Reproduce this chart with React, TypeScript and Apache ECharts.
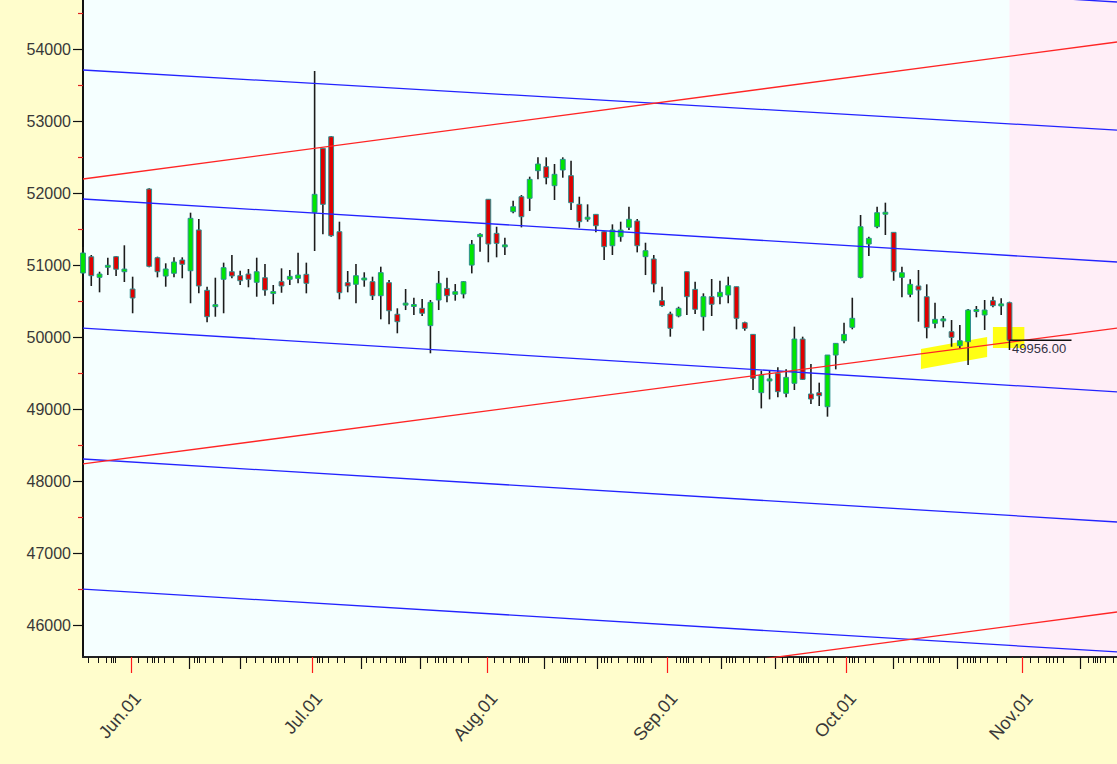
import React, { useEffect, useRef } from 'react';
import * as echarts from 'echarts';

// ---- Candles (index = trading-day slot; null = empty slot) ----
const opens: (number | null)[] = [
  50889, 51115, 50829, 50980, 51116, 50907, 50667, null, 52056, 51102,
  50847, 50885, 51070, 50921, 51487, 50649, 50431, 50802, 50907, 50852,
  50875, 50760, 50824, 50615, 50769, 50802, 50815, 50871, 51732, 52621,
  52782, 51463, 50755, 50732, 50806, 50769, 50574, 50755, 50316, 50455,
  50436, 50399, 50158, 50514, 50676, 50593, 50598, 50999, 51393, 51913,
  51440, 51264, 51741, 51949, 51927, 52310, 52366, 52102, 52320, 52241,
  51843, 51649, 51704, 51463, 51268, 51393, 51524, 51611, 51116, 51084,
  50505, 50320, 50292, 50907, 50662, 50282, 50560, 50560, 50584, 50699,
  50199, 50037, 49227, 49403, 49495, 49218, 49357, 49972, 49209, 49227,
  49032, 49750, 49949, 50135, 50829, 51292, 51532, 51718, 51454, 50829,
  50593, 50709, 50560, 50190, 50236, 50074, 49880, 49935, 50366, 50306,
  50505, 50445, 50477,
];
const closes: (number | null)[] = [
  51167, 50852, 50875, 50985, 50941, 50944, 50542, null, 50982, 50907,
  50945, 51042, 51010, 51649, 50709, 50282, 50440, 50963, 50848, 50782,
  50802, 50907, 50653, 50620, 50709, 50843, 50861, 50746, 51982, 51843,
  51407, 50616, 50709, 50852, 50806, 50574, 50894, 50365, 50213, 50460,
  50440, 50330, 50482, 50746, 50574, 50630, 50769, 51288, 51426, 51292,
  51301, 51268, 51810, 51671, 52190, 52403, 52213, 52260, 52468, 51866,
  51602, 51652, 51546, 51255, 51486, 51486, 51635, 51268, 51199, 50737,
  50436, 50121, 50399, 50560, 50385, 50560, 50455, 50621, 50713, 50260,
  50121, 49426, 49472, 49406, 49241, 49440, 49972, 49412, 49139, 49185,
  49750, 49912, 50037, 50260, 51532, 51371, 51727, 51721, 50907, 50893,
  50732, 50653, 50130, 50246, 50240, 49996, 49949, 50375, 50370, 50375,
  50436, 50448, 49956,
];
const lows: (number | null)[] = [
  50880, 50709, 50621, 50861, 50848, 50764, 50330, null, 50968, 50829,
  50699, 50829, 50816, 50469, 50607, 50205, 50282, 50330, 50815, 50723,
  50691, 50560, 50574, 50455, 50615, 50723, 50746, 50607, 51195, 51427,
  51393, 50524, 50621, 50469, 50699, 50514, 50246, 50177, 50052, 50375,
  50306, 50292, 49774, 50375, 50482, 50505, 50537, 50884, 51185, 51038,
  51107, 51139, 51718, 51523, 51750, 52190, 52121, 51903, 52213, 51764,
  51518, 51602, 51454, 51070, 51139, 51324, 51486, 51176, 50861, 50621,
  50421, 50005, 50274, 50306, 50320, 50088, 50292, 50455, 50469, 50107,
  50088, 49264, 49009, 49134, 49162, 49162, 49264, 49403, 49070, 49042,
  48894, 49551, 49912, 50107, 50815, 51125, 51510, 51417, 50782, 50551,
  50551, 50213, 49982, 50121, 50135, 49865, 49843, 49611, 50274, 50098,
  50412, 50306, 49945,
];
const highs: (number | null)[] = [
  51250, 51139, 50907, 51102, 51125, 51274, 50838, null, 52066, 51116,
  51024, 51107, 51107, 51727, 51639, 50699, 50824, 51033, 51139, 50921,
  50945, 51102, 51014, 50723, 50954, 50931, 51171, 51033, 53695, 52621,
  52792, 51602, 50917, 51014, 50899, 50838, 50977, 50792, 50399, 50667,
  50546, 50528, 50514, 50917, 50824, 50736, 50778, 51348, 51440, 51913,
  51532, 51380, 51894, 51972, 52227, 52496, 52496, 52403, 52496, 52449,
  51949, 51843, 51704, 51472, 51565, 51602, 51810, 51639, 51310, 51139,
  50699, 50352, 50421, 50907, 50769, 50607, 50806, 50782, 50838, 50699,
  50213, 50037, 49532, 49528, 49579, 49551, 50144, 50005, 49625, 49366,
  49750, 49912, 50199, 50546, 51695, 51393, 51810, 51866, 51454, 50977,
  50801, 50931, 50732, 50477, 50292, 50236, 50167, 50389, 50431, 50514,
  50560, 50537, 50491,
];

// ---- Axes ----
const yMin = 45556;
const yMax = 54681;
const yMajorTicks = [46000, 47000, 48000, 49000, 50000, 51000, 52000, 53000, 54000];
const yMinorTicks = [46500, 47500, 48500, 49500, 50500, 51500, 52500, 53500, 54500];
const xEnd = 125;
const monthLabels = ['Jun.01', 'Jul.01', 'Aug.01', 'Sep.01', 'Oct.01', 'Nov.01'];
const monthPos = [5.8, 27.7, 48.9, 70.65, 92.26, 113.6];
const monthLabelPos = [6.6, 28.5, 49.7, 71.45, 93.06, 114.4];
const longTickPos = [12.8, 19.0, 33.6, 40.75, 55.7, 62.2, 77.1, 83.7, 97.9, 105.7, 120.6];
const smallTickPos = [
  0.6, 1.81, 2.78, 3.39, 3.63, 3.87,
  6.65, 7.74, 8.34, 8.59, 9.07, 9.79, 10.88,
  13.42, 13.78, 14.03, 14.75, 15.72, 16.81,
  19.71, 20.8, 21.77, 22.73, 23.22, 23.58, 24.18, 24.91, 25.88,
  28.3, 28.54, 28.9, 29.63, 30.71, 31.56,
  34.22, 35.07, 35.9, 36.64, 37.73, 38.34, 38.63, 38.94,
  41.6, 42.6, 43.0, 43.5, 43.9, 44.7, 45.7, 46.6,
  49.7, 50.8, 51.6, 52.7, 53.1, 53.4, 53.8,
  56.7, 57.7, 58.0, 58.3, 58.6, 58.9, 59.7, 60.7,
  62.7, 63.0, 63.4, 63.8, 64.7, 65.8, 66.6, 67.0, 67.4, 67.7, 68.7,
  71.7, 72.2, 72.6, 72.9, 73.2, 73.8, 74.8, 75.7,
  77.8, 78.1, 78.5, 78.8, 79.8, 80.6, 81.5, 82.3,
  84.5, 85.1, 85.9, 86.6, 86.8, 87.1, 87.4, 87.7, 88.3, 88.9, 90.0, 90.7,
  92.6, 93.0, 93.2, 93.7, 94.6, 95.5,
  98.5, 99.2, 100.0, 100.8, 101.6, 102.2, 102.4, 102.8, 103.5,
  106.4, 106.9, 107.3, 107.6, 107.9, 108.5, 109.3, 110.5, 111.6,
  114.5, 115.5, 116.4, 116.8, 117.3, 117.8, 118.5,
  121.5, 122.1, 122.4, 122.6, 123.0, 123.6, 124.5,
];

// ---- Channel lines: [value at first slot, value at last slot] ----
const blueLines = [
  [55528, 54653],
  [53709, 52875],
  [51917, 51042],
  [50125, 49237],
  [48306, 47431],
  [46500, 45626],
];
const redLines = [
  [52195, 54098],
  [48237, 50125],
  [44278, 46181],
];

// ---- Annotations ----
const lastClose = 49956;
const lastSlot = 112;
const priceLineEnd = 119.5;
const priceBracketLow = 49820;
const futureStart = 112;
const highlightPolys = [
  [101.3, 49834, 109.3, 50000, 109.3, 49723, 101.3, 49556],
  [110.0, 50139, 113.8, 50139, 113.8, 49848, 110.0, 49848],
];

const labelBase = {
  fontFamily: 'Liberation Sans, Arial, sans-serif',
  color: '#383838',
  textShadowColor: 'rgba(150,225,230,0.85)',
  textShadowOffsetX: 1,
  textShadowOffsetY: 1,
  textShadowBlur: 0,
};

export default function App() {
  const ref = useRef<HTMLDivElement>(null);
  useEffect(() => {
    if (!ref.current) return;
    const chart = echarts.init(ref.current, undefined, { renderer: 'svg' });

    const candleData: number[][] = [];
    for (let i = 0; i < opens.length; i++) {
      if (opens[i] == null) continue;
      candleData.push([i, opens[i] as number, closes[i] as number, lows[i] as number, highs[i] as number]);
    }

    const lineSeries: any[] = [];
    blueLines.forEach((l) =>
      lineSeries.push({
        type: 'line', xAxisIndex: 0, yAxisIndex: 0, silent: true, symbol: 'none', z: 5,
        data: [[0, l[0]], [xEnd, l[1]]],
        lineStyle: { color: '#2323ff', width: 1.3 },
      })
    );
    redLines.forEach((l) =>
      lineSeries.push({
        type: 'line', xAxisIndex: 0, yAxisIndex: 0, silent: true, symbol: 'none', z: 5,
        data: [[0, l[0]], [xEnd, l[1]]],
        lineStyle: { color: '#ff2525', width: 1.3 },
      })
    );

    const valueX = (extra: any) => ({
      type: 'value', min: 0, max: xEnd, position: 'bottom', gridIndex: 0,
      splitLine: { show: false },
      axisLine: { show: false, onZero: false },
      axisLabel: { show: false },
      ...extra,
    });

    const option: any = {
      animation: false,
      backgroundColor: '#FFFDCC',
      grid: { left: 83, right: 0, top: 0, bottom: 107, show: true, backgroundColor: '#F5FFFF', borderWidth: 0 },
      xAxis: [
        valueX({
          axisLine: { show: true, onZero: false, lineStyle: { color: '#222', width: 2 } },
          axisTick: { show: true, customValues: smallTickPos, length: 6, lineStyle: { color: '#111', width: 1 } },
        }),
        valueX({
          axisTick: { show: true, customValues: longTickPos, length: 12, lineStyle: { color: '#111', width: 1.2 } },
        }),
        valueX({
          axisTick: { show: true, customValues: monthPos, length: 16, lineStyle: { color: '#ff1a1a', width: 1.2 } },
        }),
        valueX({
          axisTick: { show: false },
          axisLabel: {
            show: true, customValues: monthLabelPos, rotate: 49, margin: 38, fontSize: 18, ...labelBase,
            formatter: (v: number) => {
              const k = monthLabelPos.findIndex((p) => Math.abs(p - v) < 0.01);
              return k >= 0 ? monthLabels[k] : '';
            },
          },
        }),
      ],
      yAxis: [
        {
          type: 'value', min: yMin, max: yMax, position: 'left', gridIndex: 0,
          splitLine: { show: false },
          axisLine: { show: true, onZero: false, lineStyle: { color: '#111', width: 2 } },
          axisTick: { show: true, customValues: yMajorTicks, length: 10, lineStyle: { color: '#111', width: 1.2 } },
          axisLabel: { show: true, customValues: yMajorTicks, margin: 12, fontSize: 16, ...labelBase, formatter: (v: number) => String(v) },
        },
        {
          type: 'value', min: yMin, max: yMax, position: 'left', gridIndex: 0,
          splitLine: { show: false },
          axisLine: { show: false, onZero: false },
          axisTick: { show: true, customValues: yMinorTicks, length: 5, lineStyle: { color: '#e02020', width: 1.2 } },
          axisLabel: { show: false },
        },
      ],
      series: [
        {
          type: 'custom', name: 'future', xAxisIndex: 0, yAxisIndex: 0, silent: true, z: 0,
          data: [[futureStart, xEnd]],
          renderItem: (params: any, api: any) => {
            const a = api.coord([api.value(0), yMax]);
            const b = api.coord([api.value(1), yMin]);
            return { type: 'rect', shape: { x: a[0], y: a[1], width: b[0] - a[0], height: b[1] - a[1] }, style: { fill: '#FFEEF7' } };
          },
        },
        {
          type: 'custom', name: 'highlight', xAxisIndex: 0, yAxisIndex: 0, silent: true, z: 1,
          data: highlightPolys,
          renderItem: (params: any, api: any) => {
            const pts = [0, 2, 4, 6].map((k) => api.coord([api.value(k), api.value(k + 1)]));
            return { type: 'polygon', shape: { points: pts }, style: { fill: '#FFFF00', opacity: 0.92 } };
          },
        },
        {
          type: 'custom', name: 'candles', xAxisIndex: 0, yAxisIndex: 0, silent: true, z: 3,
          data: candleData,
          encode: { x: 0, y: [1, 2, 3, 4] },
          renderItem: (params: any, api: any) => {
            const i = api.value(0);
            const o = api.value(1), c = api.value(2), l = api.value(3), h = api.value(4);
            const pO = api.coord([i, o]);
            const pC = api.coord([i, c]);
            const pL = api.coord([i, l]);
            const pH = api.coord([i, h]);
            const w = api.size([1, 0])[0] * 0.58;
            let top = Math.min(pO[1], pC[1]);
            let hgt = Math.abs(pO[1] - pC[1]);
            if (hgt < 2) { top -= (2 - hgt) / 2; hgt = 2; }
            const up = c >= o;
            return {
              type: 'group',
              children: [
                { type: 'line', shape: { x1: pH[0], y1: pH[1], x2: pL[0], y2: pL[1] }, style: { stroke: '#1c1c1c', lineWidth: 1.6 } },
                { type: 'rect', shape: { x: pO[0] - w / 2, y: top, width: w, height: hgt }, style: { fill: up ? '#00e600' : '#e00000', stroke: '#2f8f8f', lineWidth: 1 } },
              ],
            };
          },
        },
        ...lineSeries,
        {
          type: 'line', xAxisIndex: 0, yAxisIndex: 0, silent: true, symbol: 'none', z: 6,
          data: [[lastSlot, lastClose], [priceLineEnd, lastClose]],
          lineStyle: { color: '#111', width: 1.5 },
          markPoint: {
            symbol: 'rect', symbolSize: [1, 1], itemStyle: { color: 'rgba(0,0,0,0)' }, silent: true,
            data: [{ coord: [lastSlot, lastClose], value: lastClose }],
            label: {
              show: true, position: 'right', offset: [-3, 8], color: '#333344', fontSize: 13,
              fontFamily: 'Liberation Sans, Arial, sans-serif',
              formatter: () => lastClose.toFixed(2),
            },
          },
        },
        {
          type: 'line', xAxisIndex: 0, yAxisIndex: 0, silent: true, symbol: 'none', z: 6,
          data: [[lastSlot, lastClose], [lastSlot, priceBracketLow]],
          lineStyle: { color: '#111', width: 1.5 },
        },
      ],
    };
    chart.setOption(option);
    return () => chart.dispose();
  }, []);
  return (
    <div
      ref={ref}
      style={{ position: 'fixed', left: 0, top: 0, width: 1117, height: 764 }}
    />
  );
}
